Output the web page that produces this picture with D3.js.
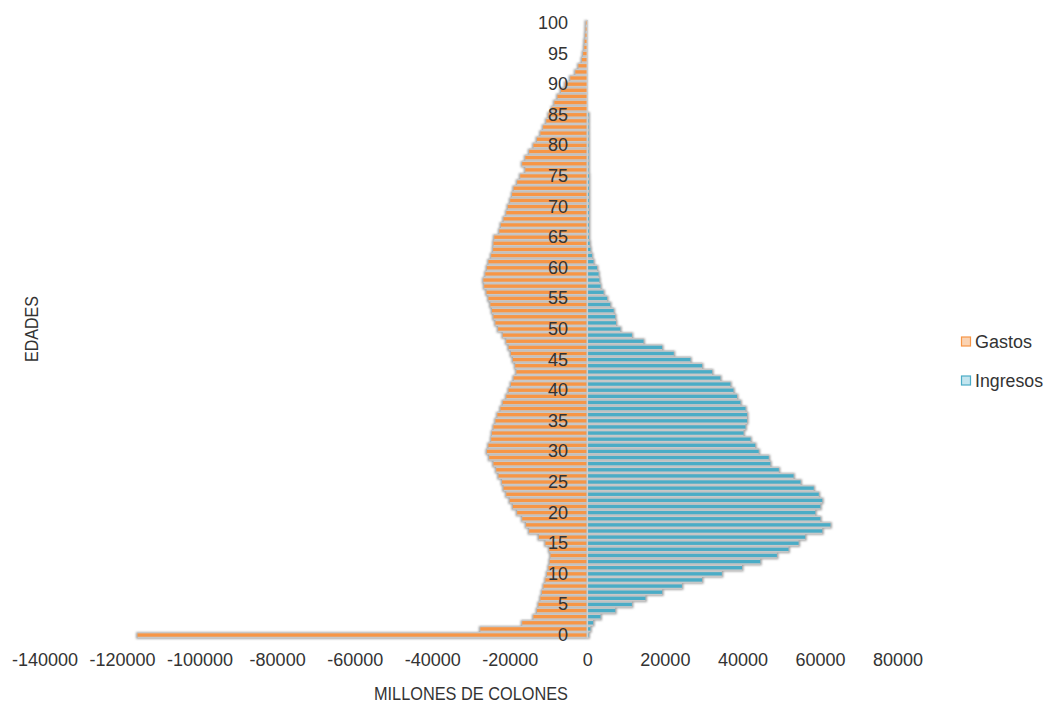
<!DOCTYPE html>
<html>
<head>
<meta charset="utf-8">
<script src="https://cdn.jsdelivr.net/npm/d3@7"></script>
<style>
  html, body { margin: 0; padding: 0; background: #ffffff; }
  svg { display: block; }
  text { font-family: "Liberation Sans", Arial, sans-serif; fill: #333333; }
</style>
</head>
<body>
<svg id="chart" width="1048" height="703"></svg>
<script>
// Age groups 0..100
const ages = d3.range(0, 101);

// Spending by age (millions of colones, drawn to the left)
const gastos = [
  -116000, -27600, -16800, -13900, -13000, -12600, -12100, -11700, -11300, -10800,
  -10400, -10000, -9700, -9500, -9800, -10800, -12500, -15000, -15800, -16800,
  -18100, -19200, -20000, -20900, -21600, -22000, -22900, -23500, -24200, -25300,
  -25900, -25500, -24800, -24600, -24200, -23700, -23200, -22400, -21800, -20900,
  -20300, -19700, -19000, -18300, -18600, -19200, -19700, -20300, -20900, -21800,
  -23000, -23700, -24200, -24600, -25000, -25500, -26000, -26600, -26800, -26300,
  -25900, -25500, -24800, -24300, -24200, -24000, -22700, -22300, -21600, -20900,
  -20500, -19900, -19400, -19000, -18100, -17300, -16000, -16800, -16000, -15000,
  -13900, -13000, -12100, -11400, -10600, -10000, -9100, -8500, -7700, -6800,
  -5700, -4400, -3100, -2300, -1400, -1100, -800, -700, -500, -400,
  -350
];

// Income by age (millions of colones, drawn to the right)
const ingresos = [
  300, 800, 1500, 3400, 7200, 11500, 15000, 19300, 24400, 29600,
  34700, 39900, 44600, 48900, 51900, 54500, 56200, 60600, 62700, 60100,
  58800, 60100, 60600, 59700, 58400, 55000, 53200, 49400, 47200, 46800,
  44200, 43300, 42100, 40300, 40800, 41200, 41200, 40800, 39500, 38600,
  37700, 36900, 34300, 32200, 29600, 26600, 22300, 19300, 14500, 11500,
  8500, 7400, 7200, 6800, 5900, 5100, 4200, 3400, 3100, 2900,
  2500, 1600, 1200, 800, 600, 400, 400, 400, 400, 400,
  400, 400, 400, 400, 400, 400, 300, 300, 300, 300,
  300, 300, 300, 300, 300, 300, 0, 0, 0, 0,
  0, 0, 0, 0, 0, 0, 0, 0, 0, 0,
  0
];

const xTicks = [-140000, -120000, -100000, -80000, -60000, -40000, -20000, 0, 20000, 40000, 60000, 80000];
const yTickAges = [0, 5, 10, 15, 20, 25, 30, 35, 40, 45, 50, 55, 60, 65, 70, 75, 80, 85, 90, 95, 100];

const seriesNames = ["Gastos", "Ingresos"];
const seriesColors = { Gastos: "#F79646", Ingresos: "#4BACC6" };
const legendFill = { Gastos: "#FAD3B3", Ingresos: "#C3E5EF" };
const legendWidth = { Gastos: 57, Ingresos: 68 };

const svg = d3.select("#chart");

const x = d3.scaleLinear().domain([-140000, 80000]).range([44.5, 897.5]);
const y = d3.scaleBand().domain(ages).range([638.1, 19.9]).padding(0);

const bw = y.bandwidth();
const barH = bw * 0.55;

// soft shadow for bar tips
const defs = svg.append("defs");
defs.append("filter").attr("id", "soft")
  .attr("x", "-5%").attr("y", "-50%").attr("width", "110%").attr("height", "200%")
  .append("feGaussianBlur").attr("stdDeviation", 0.8);

const rows = ages.map((a, i) => ({ age: a, g: gastos[i], inc: ingresos[i] }));

function drawSeries(key, color) {
  const g = svg.append("g");
  const data = rows.filter(d => d[key] !== 0);
  // darker shadow edge
  g.append("g").attr("filter", "url(#soft)")
    .selectAll("rect").data(data).join("rect")
    .attr("x", d => d[key] < 0 ? x(d[key]) - 1.5 : x(0))
    .attr("width", d => Math.abs(x(d[key]) - x(0)) + 1.5)
    .attr("y", d => y(d.age) + 0.3)
    .attr("height", bw + 0.4)
    .attr("fill", "#a0a0a0");
  // light grey body between stripes
  g.append("g").selectAll("rect").data(data).join("rect")
    .attr("x", d => Math.min(x(d[key]), x(0)))
    .attr("width", d => Math.abs(x(d[key]) - x(0)))
    .attr("y", d => y(d.age))
    .attr("height", bw + 0.1)
    .attr("fill", "#c8c8c8");
  // coloured bar
  g.append("g").selectAll("rect").data(data).join("rect")
    .attr("x", d => Math.min(x(d[key]), x(0)))
    .attr("width", d => Math.abs(x(d[key]) - x(0)))
    .attr("y", d => y(d.age) + (bw - barH) / 2)
    .attr("height", barH)
    .attr("fill", color);
}

drawSeries("g", seriesColors.Gastos);
drawSeries("inc", seriesColors.Ingresos);

// vertical axis line at zero
svg.append("line")
  .attr("x1", x(0)).attr("x2", x(0))
  .attr("y1", y.range()[1]).attr("y2", y.range()[0])
  .attr("stroke", "#d0d0d0").attr("stroke-width", 1.5);

// age labels
svg.append("g").selectAll("text").data(yTickAges).join("text")
  .attr("x", 568)
  .attr("y", a => y(a) + bw / 2)
  .attr("text-anchor", "end")
  .attr("dominant-baseline", "central")
  .attr("font-size", 18)
  .text(a => a);

// horizontal axis labels
const xAxis = d3.axisBottom(x).tickValues(xTicks).tickSize(0).tickPadding(0).tickFormat(d => String(d));
const xg = svg.append("g").attr("transform", "translate(0,655)").call(xAxis);
xg.select(".domain").remove();
xg.selectAll("text")
  .attr("font-size", 18)
  .attr("font-family", "Liberation Sans, Arial, sans-serif")
  .attr("fill", "#333333")
  .attr("dy", "0.6em");

// axis titles
svg.append("text")
  .attr("x", 471).attr("y", 700)
  .attr("text-anchor", "middle")
  .attr("font-size", 18)
  .attr("textLength", 194)
  .attr("lengthAdjust", "spacingAndGlyphs")
  .text("MILLONES DE COLONES");

svg.append("text")
  .attr("transform", "translate(38,329) rotate(-90)")
  .attr("text-anchor", "middle")
  .attr("font-size", 18)
  .attr("textLength", 66)
  .attr("lengthAdjust", "spacingAndGlyphs")
  .text("EDADES");

// legend
const legend = svg.append("g").selectAll("g").data(seriesNames).join("g")
  .attr("transform", (d, i) => `translate(961,${342 + i * 39})`);
legend.append("rect")
  .attr("x", 0.5).attr("y", -5).attr("width", 9).attr("height", 9)
  .attr("fill", d => legendFill[d])
  .attr("stroke", d => seriesColors[d]).attr("stroke-width", 1.2);
legend.append("text")
  .attr("x", 14).attr("y", 0)
  .attr("dominant-baseline", "central")
  .attr("font-size", 18)
  .attr("textLength", d => legendWidth[d])
  .attr("lengthAdjust", "spacingAndGlyphs")
  .text(d => d);
</script>
</body>
</html>
